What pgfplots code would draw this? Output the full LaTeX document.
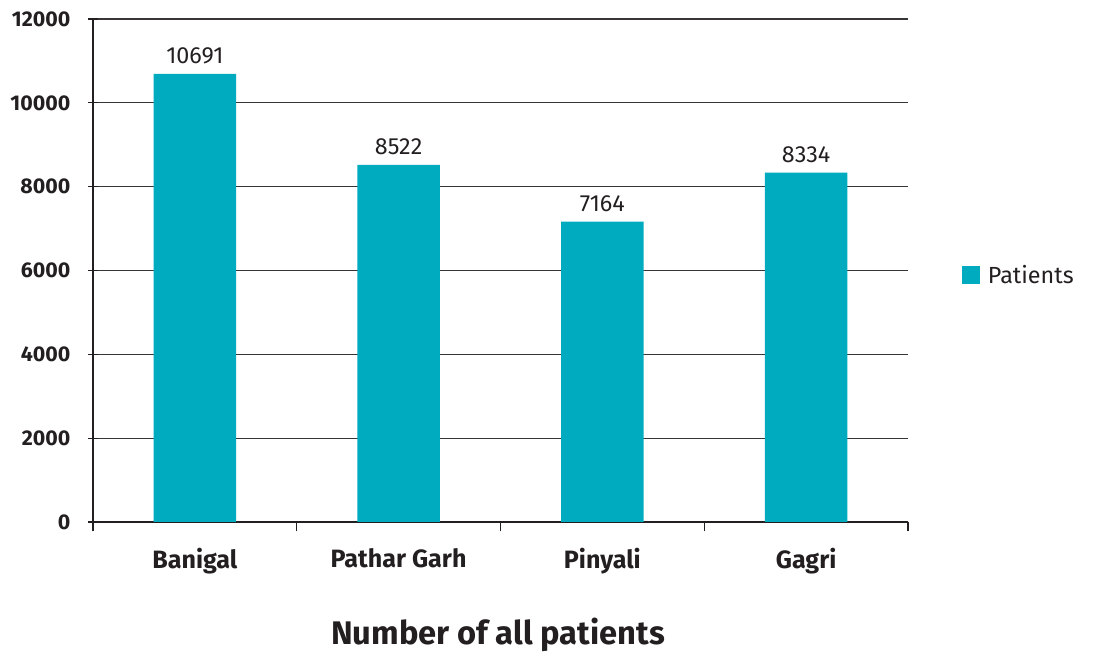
\documentclass[border=0pt]{standalone}
\usepackage{fontspec}
\setmainfont{Fira Sans}
\usepackage{pgfplots}
\pgfplotsset{compat=1.18}
\definecolor{barc}{HTML}{00ABBF}
\definecolor{txt}{HTML}{231F20}
\begin{document}
\begin{tikzpicture}
\begin{axis}[
  name=ax,
  scale only axis,
  width=611.25pt, height=377.25pt,
  xmin=-0.5, xmax=3.5,
  ymin=0, ymax=12000,
  ytick={0,2000,...,12000},
  xtick={0,1,2,3},
  xticklabels={Banigal,Pathar Garh,Pinyali,Gagri},
  minor xtick={-0.5,0.5,1.5,2.5,3.5},
  major x tick style={draw=none},
  minor tick length=7pt,
  major tick length=7pt,
  tick align=outside,
  axis x line=bottom,
  axis y line=left,
  axis line style={-, draw=txt, line width=0.9pt},
  tick style={draw=txt, line width=0.9pt},
  ymajorgrids,
  grid style={draw=txt!90, line width=0.8pt},
  scaled y ticks=false,
  /pgf/number format/assume math mode=true,
  yticklabel={\pgfmathprintnumber[fixed,precision=0,1000 sep={}]{\tick}},
  yticklabel style={font=\fontsize{16}{18}\selectfont\bfseries, text=txt, xshift=-10pt},
  xticklabel style={font=\fontsize{18.8}{22}\selectfont\bfseries, text=txt, yshift=-9pt},
  ybar, bar width=62pt,
  nodes near coords,
  every node near coord/.append style={font=\fontsize{17.5}{20}\selectfont, text=txt, yshift=4pt},
  /pgf/number format/1000 sep={},
  legend style={at={(1.061,0.491)}, anchor=west, draw=none, font=\fontsize{17.5}{20}\selectfont, text=txt},
  legend image code/.code={\fill[barc] (0pt,-6.75pt) rectangle (13.5pt,6.75pt);},
  legend cell align=left,
  legend style={/tikz/every even column/.append style={column sep=0pt}},
  clip=false,
]
\addplot[fill=barc, draw=none] coordinates {(0,10691) (1,8522) (2,7164) (3,8334)};
\addlegendentry{\hspace{4pt}Patients}
\node[font=\fontsize{24.5}{28}\selectfont\bfseries, text=txt] at (rel axis cs:0.497,-0.225) {Number of all patients};
\end{axis}
\path (ax.south west) ++(-69.75pt,-99.75pt) rectangle ++(819.75pt,491.25pt);
\end{tikzpicture}
\end{document}
